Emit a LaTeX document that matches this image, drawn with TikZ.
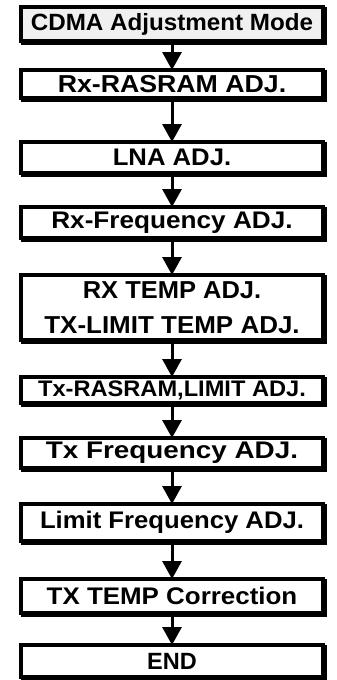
\documentclass[tikz,border=0pt]{standalone}
\usepackage{fontspec}
\usepackage{graphicx}
\setmainfont{Liberation Sans}
\usetikzlibrary{arrows.meta,shadows}

% bold label at a given size, widened horizontally by a factor
\newcommand{\widelabel}[3]{\fontsize{#1}{#1}\selectfont\scalebox{#2}[1]{#3}}

\tikzset{
  stagebox/.style={
    draw=black, line width=4pt, fill=white,
    minimum width=302pt, inner sep=0pt, outer sep=0pt,
    font=\bfseries, align=center,
    drop shadow={shadow xshift=1.5pt, shadow yshift=-1.5pt,
                 fill=black, draw=black, line width=4pt, opacity=1}
  },
  startbox/.style={stagebox, fill=black!6},
  flow/.style={line width=3pt, -{Triangle[width=19pt,length=18pt]}}
}

\begin{document}
\begin{tikzpicture}[x=1pt,y=-1pt]
  \useasboundingbox (0,0) rectangle (337,680);

  % stages of the adjustment sequence
  \node[startbox, minimum height=34pt] (b1) at (172,24)
    {\widelabel{23.5}{1.03}{CDMA Adjustment Mode}};
  \node[stagebox, minimum height=28pt] (b2) at (172,84)
    {\widelabel{24.5}{1.09}{Rx-RASRAM ADJ.}};
  \node[stagebox, minimum height=31pt] (b3) at (172,157.5)
    {\widelabel{24}{1.07}{LNA ADJ.}};
  \node[stagebox, minimum height=31pt] (b4) at (172,222.5)
    {\widelabel{24}{1.09}{Rx-Frequency ADJ.}};
  \node[stagebox, minimum height=65pt,
        font=\bfseries\fontsize{24.5}{35}\selectfont] (b5) at (172,307.5)
    {\scalebox{1.04}[1]{RX TEMP ADJ.}\\\scalebox{1.06}[1]{TX-LIMIT TEMP ADJ.}};
  \node[stagebox, minimum height=26pt] (b6) at (172,390)
    {\widelabel{22.5}{1.05}{Tx-RASRAM,LIMIT ADJ.}};
  \node[stagebox, minimum height=30pt] (b7) at (172,453)
    {\widelabel{24}{1.16}{Tx Frequency ADJ.}};
  \node[stagebox, minimum height=37pt] (b8) at (172,522.5)
    {\widelabel{24}{1.07}{Limit Frequency ADJ.}};
  \node[stagebox, minimum height=34pt] (b9) at (172,596)
    {\widelabel{24}{1.08}{TX TEMP Correction}};
  \node[stagebox, minimum height=32pt] (b10) at (172,661)
    {\widelabel{23.5}{1.0}{END}};

  % connectors between consecutive stages
  \foreach \a/\b in {b1/b2,b2/b3,b3/b4,b4/b5,b5/b6,b6/b7,b7/b8,b8/b9,b9/b10}
    \draw[flow] (\a) -- (\b);
\end{tikzpicture}
\end{document}
